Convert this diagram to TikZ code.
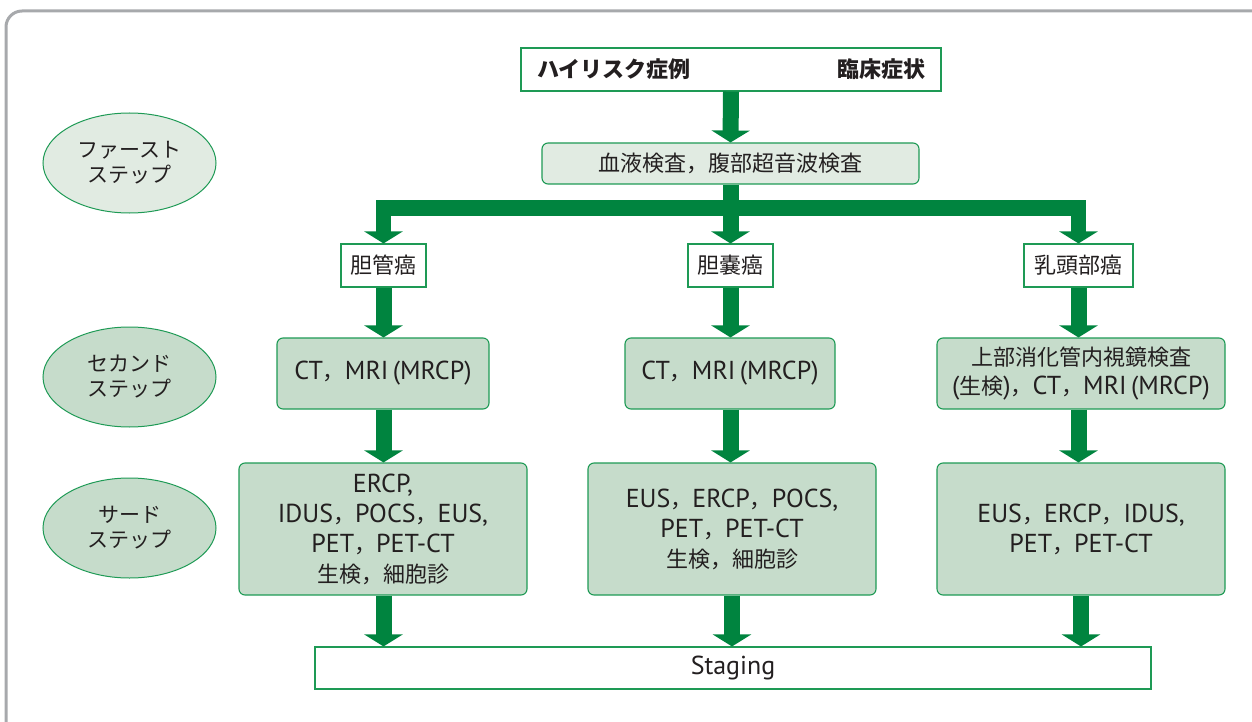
\documentclass[tikz,border=0pt]{standalone}
\usepackage{fontspec}
\setmainfont{PT Sans}[Scale=1.18]
\newfontfamily\jp{Noto Sans CJK JP}
\usetikzlibrary{arrows.meta,shapes.geometric}
\definecolor{arrowgreen}{HTML}{00843F}
\definecolor{boxline}{HTML}{1E9A55}
\definecolor{fillA}{HTML}{E1EBE2}
\definecolor{fillB}{HTML}{C6DCCB}
\definecolor{txt}{HTML}{231F20}
\definecolor{frame}{HTML}{A7A9AC}
\newcommand\J[1]{{\jp #1}}
\tikzset{
  bigarrow/.style={draw=arrowgreen,line width=16pt,-{Triangle[width=38pt,length=12pt]},line join=miter},
  whitebox/.style={draw=boxline,line width=1.1pt,fill=white,inner sep=0pt,text=txt,font=\fontsize{22}{30}\selectfont},
  stepbox/.style={draw=boxline,line width=1.1pt,fill=fillB,rounded corners=6pt,inner sep=0pt,text=txt,align=center,font=\fontsize{22}{30}\selectfont},
  stepoval/.style={ellipse,draw=boxline,line width=1pt,fill=fillB,minimum width=173pt,minimum height=100pt,inner sep=0pt,text=txt,align=center,font=\fontsize{21}{25}\selectfont\jp},
}
\begin{document}
\begin{tikzpicture}[x=1pt,y=-1pt]
\useasboundingbox (0,0) rectangle (1252,722);
\begin{scope}
\clip (0,0) rectangle (1252,722);
\draw[frame,line width=3pt,rounded corners=16pt] (6,11) rectangle (1270,740);
\end{scope}

% left ovals
\node[stepoval,fill=fillA] (e1) at (129.5,163) {ファースト\\ステップ};
\node[stepoval] (e2) at (129.5,377) {セカンド\\ステップ};
\node[stepoval] (e3) at (129.5,528) {サード\\ステップ};

% top box
\node[whitebox,minimum width=420pt,minimum height=43pt] (top) at (731,69.5)
  {\makebox[388pt]{\J{\bfseries ハイリスク症例}\hfill\J{\bfseries 臨床症状}}};
\node[stepbox,fill=fillA,minimum width=377pt,minimum height=41pt] (blood) at (730.5,163.5)
  {\J{血液検査，腹部超音波検査}};

% cancer labels
\node[whitebox,minimum width=85pt,minimum height=43pt] (lab1) at (383.5,265.5) {\J{胆管癌}};
\node[whitebox,minimum width=85pt,minimum height=43pt] (lab2) at (730.5,265.5) {\J{胆嚢癌}};
\node[whitebox,minimum width=109pt,minimum height=43pt] (lab3) at (1078.5,265.5) {\J{乳頭部癌}};

% second step
\node[stepbox,minimum width=212pt,minimum height=71pt] (s1) at (383,373.5) {CT\J{，}MRI\,(MRCP)};
\node[stepbox,minimum width=210pt,minimum height=71pt] (s2) at (730,373.5) {CT\J{，}MRI\,(MRCP)};
\node[stepbox,minimum width=288pt,minimum height=71pt,font=\fontsize{22}{29}\selectfont] (s3) at (1081,373.5)
  {\J{上部消化管内視鏡検査}\\(\J{生検})\J{，}CT\J{，}MRI\,(MRCP)};

% third step
\node[stepbox,minimum width=288pt,minimum height=132pt] (t1) at (383,529)
  {ERCP,\\IDUS\J{，}POCS\J{，}EUS,\\PET\J{，}PET-CT\\\J{生検，細胞診}};
\node[stepbox,minimum width=288pt,minimum height=132pt] (t2) at (732,529)
  {EUS\J{，}ERCP\J{，}POCS,\\PET\J{，}PET-CT\\\J{生検，細胞診}};
\node[stepbox,minimum width=288pt,minimum height=132pt] (t3) at (1081,529)
  {EUS\J{，}ERCP\J{，}IDUS,\\PET\J{，}PET-CT};

% staging
\node[whitebox,minimum width=836pt,minimum height=42pt] (stg) at (733,668) {Staging};

% connectors
\coordinate (bar) at (730,208);
\draw[bigarrow] (top.south) -- (blood.north);
\draw[bigarrow] (blood.south) -- (lab2.north);
\draw[draw=arrowgreen,line width=15pt,{Triangle[width=38pt,length=12pt]}-{Triangle[width=38pt,length=12pt]},line join=miter]
  (lab1.north) |- (bar) -| (lab3.north);

\draw[bigarrow] (lab1.south) -- (lab1.south |- s1.north);
\draw[bigarrow] (lab2.south) -- (lab2.south |- s2.north);
\draw[bigarrow] (lab3.south) -- (lab3.south |- s3.north);

\draw[bigarrow] (s1.south -| lab1) -- (t1.north -| lab1);
\draw[bigarrow] (s2.south -| lab2) -- (t2.north -| lab2);
\draw[bigarrow] (s3.south -| lab3) -- (t3.north -| lab3);

\draw[bigarrow] (t1.south -| lab1) -- (stg.north -| lab1);
\draw[bigarrow] (t2.south) -- (stg.north -| t2);
\draw[bigarrow] (t3.south) -- (stg.north -| t3);
\end{tikzpicture}
\end{document}
